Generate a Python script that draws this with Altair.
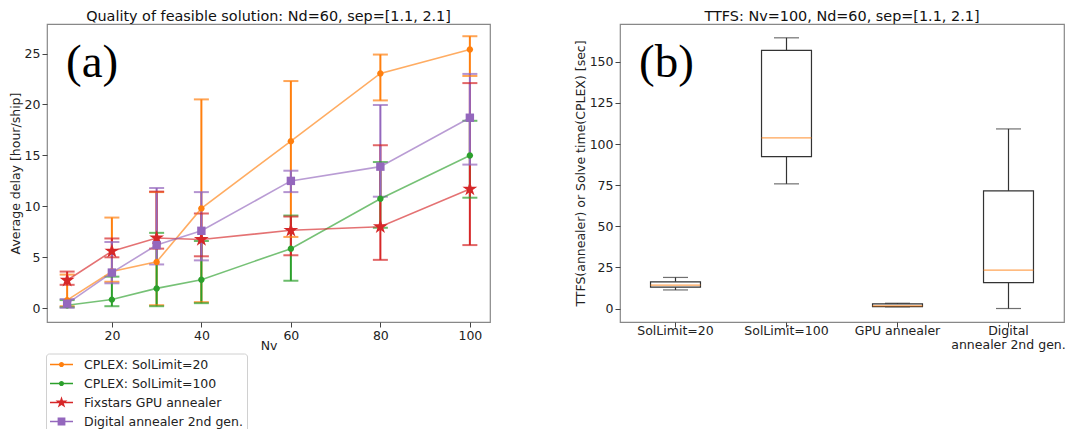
import math
import altair as alt
import pandas as pd

# ---------------- data: panel (a) ----------------
nv = [10, 20, 30, 40, 60, 80, 100]
series_names = ["CPLEX: SolLimit=20", "CPLEX: SolLimit=100",
                "Fixstars GPU annealer", "Digital annealer 2nd gen."]
series_colors = ["#ff7f0e", "#2ca02c", "#d62728", "#9467bd"]

cplex20_mean = [0.8, 3.6, 4.55, 9.8, 16.4, 23.05, 25.4]
cplex20_low = [0.2, 2.6, 0.3, 0.6, 7.0, 20.4, 22.8]
cplex20_high = [3.3, 8.9, 11.4, 20.5, 22.3, 24.9, 26.7]

cplex100_mean = [0.3, 0.85, 1.95, 2.8, 5.85, 10.75, 15.0]
cplex100_low = [0.1, 0.2, 0.2, 0.5, 2.7, 7.9, 10.85]
cplex100_high = [0.8, 3.1, 7.4, 6.6, 9.1, 14.35, 18.4]

gpu_mean = [2.75, 5.6, 6.9, 6.75, 7.65, 8.0, 11.7]
gpu_low = [2.3, 5.0, 5.85, 5.1, 5.2, 4.75, 6.2]
gpu_high = [3.6, 6.85, 11.45, 9.3, 9.0, 16.0, 22.1]

da_mean = [0.45, 3.5, 6.2, 7.6, 12.5, 13.9, 18.7]
da_low = [0.05, 2.45, 4.3, 4.7, 11.4, 10.95, 14.1]
da_high = [0.9, 6.5, 11.8, 11.4, 13.5, 19.95, 23.0]

# ---------------- data: panel (b) ----------------
box_labels = ["SolLimit=20", "SolLimit=100", "GPU annealer", "Digital\nannealer 2nd gen."]
box_low = [11.3, 75.8, 1.0, 0.0]
box_q1 = [13.0, 92.4, 1.2, 15.8]
box_median = [14.2, 103.8, 1.6, 23.3]
box_q3 = [16.2, 157.0, 2.8, 71.5]
box_high = [18.9, 164.6, 3.2, 109.2]

panel_labels = ["(a)", "(b)"]

FONT = "DejaVu Sans"

# ---------------- build tables ----------------
means = [cplex20_mean, cplex100_mean, gpu_mean, da_mean]
lows = [cplex20_low, cplex100_low, gpu_low, da_low]
highs = [cplex20_high, cplex100_high, gpu_high, da_high]
rows = []
for name, m, lo, hi in zip(series_names, means, lows, highs):
    for x, a, b, c in zip(nv, m, lo, hi):
        rows.append(dict(series=name, nv=x, mean=a, low=b, high=c))
df = pd.DataFrame(rows)

box_df = pd.DataFrame(dict(cat=box_labels, low=box_low, q1=box_q1,
                           median=box_median, q3=box_q3, high=box_high))


# ---------------- marker / legend glyphs ----------------
def circle_path(cx, r):
    return (f"M{cx - r:.3f},0A{r:.3f},{r:.3f} 0 1 1 {cx + r:.3f},0"
            f"A{r:.3f},{r:.3f} 0 1 1 {cx - r:.3f},0Z")


def star_path(cx, R, ratio=0.382):
    pts = []
    for k in range(10):
        ang = math.radians(-90 + 36 * k)
        rr = R if k % 2 == 0 else R * ratio
        pts.append(f"{cx + rr * math.cos(ang):.3f},{rr * math.sin(ang):.3f}")
    return "M" + "L".join(pts) + "Z"


def square_path(cx, s):
    return (f"M{cx - s:.3f},{-s:.3f}L{cx + s:.3f},{-s:.3f}"
            f"L{cx + s:.3f},{s:.3f}L{cx - s:.3f},{s:.3f}Z")


# legend glyph: symbol size 196 -> 1 unit = 7 px; handle is 23 px long
LEG_SIZE = 196
u = math.sqrt(LEG_SIZE) / 2
hx0, hx1 = -1.0, -1.0 + 23 / u
hc = (hx0 + hx1) / 2
ht = 0.75 / u
line_path = f"M{hx0:.3f},{-ht:.3f}L{hx1:.3f},{-ht:.3f}L{hx1:.3f},{ht:.3f}L{hx0:.3f},{ht:.3f}Z"
legend_shapes = [line_path + circle_path(hc, 2.6 / u), line_path + circle_path(hc, 2.6 / u),
                 line_path + star_path(hc, 6.3 / u), line_path + square_path(hc, 3.9 / u)]

# plot markers: constant symbol size 100 -> 1 unit = 5 px
PT_SIZE = 100
pu = math.sqrt(PT_SIZE) / 2
plot_shapes = [circle_path(0, 3.2 / pu), circle_path(0, 3.2 / pu),
               star_path(0, 7.8 / pu), square_path(0, 4.2 / pu)]

# ---------------- panel (a) ----------------
xs = alt.Scale(domain=[5.5, 104.5], nice=False, zero=False)
ys = alt.Scale(domain=[-1.35, 27.9], nice=False, zero=False)
xax = alt.Axis(values=[20, 40, 60, 80, 100], title="Nv", grid=False, titlePadding=-2)
yax = alt.Axis(values=[0, 5, 10, 15, 20, 25], title="Average delay [hour/ship]", grid=False)
X = alt.X("nv:Q", scale=xs, axis=xax)
cscale = alt.Scale(domain=series_names, range=series_colors)
col = alt.Color("series:N", scale=cscale, legend=None)


def Y(field):
    return alt.Y(f"{field}:Q", scale=ys, axis=yax)


base = alt.Chart(df)
err = base.mark_rule(strokeWidth=2).encode(x=X, y=Y("low"), y2="high:Q", color=col)
cap_lo = base.mark_tick(orient="horizontal", size=15, thickness=2).encode(x=X, y=Y("low"), color=col)
cap_hi = base.mark_tick(orient="horizontal", size=15, thickness=2).encode(x=X, y=Y("high"), color=col)
lines = base.mark_line(strokeWidth=1.6, opacity=0.65).encode(x=X, y=Y("mean"), color=col, detail="series:N")
pts = base.mark_point(filled=True, opacity=1, size=PT_SIZE, strokeWidth=0).encode(
    x=X, y=Y("mean"), color=col,
    shape=alt.Shape("series:N", scale=alt.Scale(domain=series_names, range=plot_shapes), legend=None),
)
leg = alt.Legend(title=None, orient="none", legendX=-1, legendY=329.5, symbolSize=LEG_SIZE,
                 symbolOpacity=1, symbolStrokeWidth=0, labelFontSize=12.5, labelFont=FONT,
                 labelColor="#222", labelOffset=20, padding=4, rowPadding=5,
                 fillColor="white", strokeColor="#d0d0d0", cornerRadius=3, labelLimit=300)
legend_layer = base.mark_point(filled=True, opacity=0).encode(
    x=X, y=Y("mean"),
    color=alt.Color("series:N", scale=cscale, legend=leg),
    shape=alt.Shape("series:N", scale=alt.Scale(domain=series_names, range=legend_shapes), legend=leg),
)
label_a = alt.Chart(pd.DataFrame({"t": [panel_labels[0]]})).mark_text(
    align="left", baseline="alphabetic", font="Liberation Serif", fontSize=47, color="black"
).encode(x=alt.value(19), y=alt.value(53), text="t:N")

left = alt.layer(err, cap_lo, cap_hi, lines, pts, legend_layer, label_a).resolve_scale(
    shape="independent", color="independent"
).properties(width=443, height=298,
             title=alt.TitleParams("Quality of feasible solution: Nd=60, sep=[1.1, 2.1]"))

# ---------------- panel (b) ----------------
bx = alt.X("cat:N", sort=box_labels,
           scale=alt.Scale(type="band", paddingInner=0.55, paddingOuter=0.275),
           axis=alt.Axis(title=None, labelAngle=0, labelExpr="split(datum.label, '\\n')",
                         labelLineHeight=14.5, labelPadding=-3))
bys = alt.Scale(domain=[-8.2, 173], nice=False, zero=False)
byax = alt.Axis(values=[0, 25, 50, 75, 100, 125, 150],
                title="TTFS(annealer) or Solve time(CPLEX) [sec]", grid=False)


def BY(field):
    return alt.Y(f"{field}:Q", scale=bys, axis=byax)


bb = alt.Chart(box_df)
wl = bb.mark_rule(color="#333", strokeWidth=1.2).encode(x=bx, y=BY("low"), y2="q1:Q")
wh = bb.mark_rule(color="#333", strokeWidth=1.2).encode(x=bx, y=BY("q3"), y2="high:Q")
cl = bb.mark_tick(orient="horizontal", size=25, thickness=1.2, color="#333").encode(x=bx, y=BY("low"))
ch = bb.mark_tick(orient="horizontal", size=25, thickness=1.2, color="#333").encode(x=bx, y=BY("high"))
box = bb.mark_bar(fill="white", stroke="#333", strokeWidth=1.2).encode(x=bx, y=BY("q1"), y2="q3:Q")
med = bb.mark_tick(orient="horizontal", size=50, thickness=1.2, color="#ff7f0e").encode(x=bx, y=BY("median"))
label_b = alt.Chart(pd.DataFrame({"t": [panel_labels[1]]})).mark_text(
    align="left", baseline="alphabetic", font="Liberation Serif", fontSize=47, color="black"
).encode(x=alt.value(19), y=alt.value(53), text="t:N")

right = alt.layer(wl, wh, cl, ch, box, med, label_b).properties(
    width=444, height=298, title=alt.TitleParams("TTFS: Nv=100, Nd=60, sep=[1.1, 2.1]"))

chart = alt.hconcat(left, right, spacing=82).properties(
    padding={"left": 0, "top": 0, "right": 0, "bottom": 0}
).configure_view(stroke="#888", strokeWidth=1.2).configure_axis(
    labelFont=FONT, labelFontSize=12.5, labelColor="#222", titleFont=FONT, titleFontSize=12.5,
    titleFontWeight="normal", titleColor="#222", tickColor="#444", tickSize=5, labelPadding=2,
    titlePadding=2, domain=False
).configure_title(font=FONT, fontSize=14.4, fontWeight="normal", color="#111", anchor="middle", offset=-0.5)

chart.save("out.html", embed_options={"renderer": "svg", "actions": False})
